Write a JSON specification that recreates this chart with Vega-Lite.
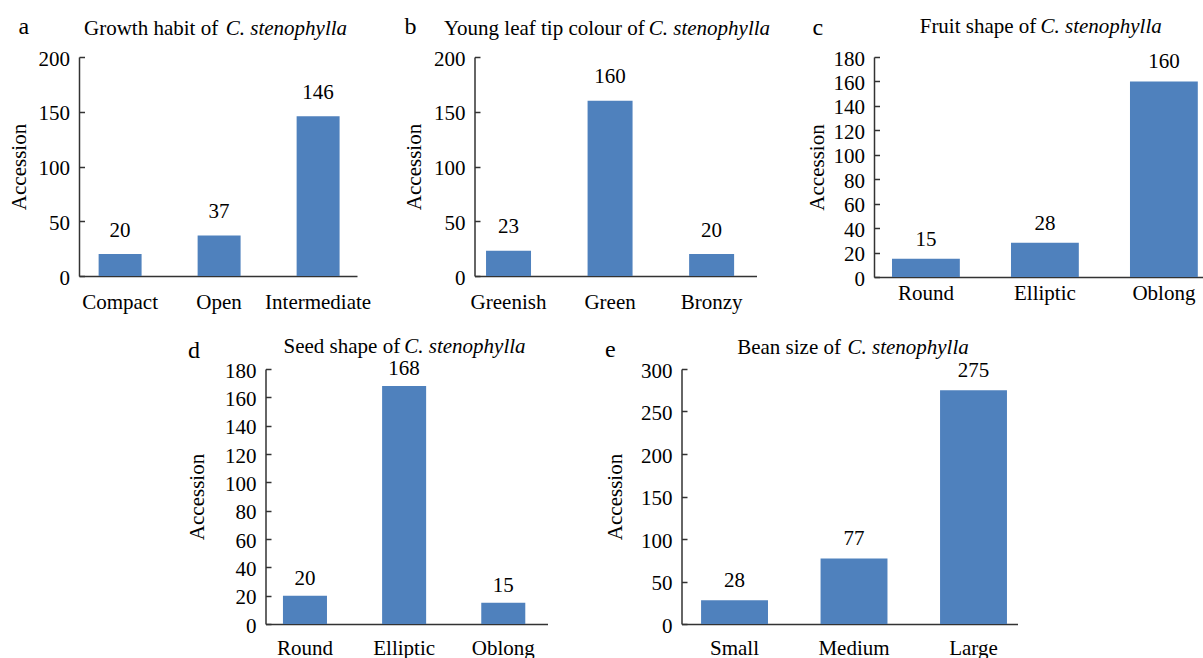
{
  "$schema": "https://vega.github.io/schema/vega-lite/v6.json",
  "padding": {"left": 8, "top": 14, "right": 0, "bottom": 0},
  "background": "white",
  "config": {
    "view": {"stroke": null},
    "font": "Liberation Serif",
    "axis": {"labelFont": "Liberation Serif", "labelFontSize": 21, "labelColor": "black", "titleFont": "Liberation Serif", "titleFontSize": 21, "titleFontWeight": "normal", "titleColor": "black", "domainColor": "#333", "domainWidth": 1.5, "tickColor": "#333", "tickWidth": 1.5, "grid": false},
    "axisX": {"labelFont": "Liberation Serif", "titleFont": "Liberation Serif", "labelAngle": 0, "ticks": false, "labelBaseline": "alphabetic", "titleAlign": "left", "titleBaseline": "alphabetic", "titleFontSize": 24, "titleAngle": 0},
    "axisY": {"labelFont": "Liberation Serif", "titleFont": "Liberation Serif", "tickSize": -5.5, "labelPadding": 15, "labelOffset": 2},
    "title": {"font": "Liberation Serif", "fontSize": 21, "fontWeight": "normal", "color": "black", "subtitleFont": "Liberation Serif", "subtitleFontSize": 21, "subtitleFontStyle": "italic", "subtitleColor": "black", "anchor": "start", "frame": "group", "subtitlePadding": -21},
    "text": {"font": "Liberation Serif", "fontSize": 21, "baseline": "alphabetic", "color": "black"},
    "bar": {"color": "#4F81BD"}
  },
  "vconcat": [
    {
      "hconcat": [
        {
          "width": 278, "height": 219,
          "data": {"values": [{"category": "Compact", "accession": 20}, {"category": "Open", "accession": 37}, {"category": "Intermediate", "accession": 146}]},
          "title": {"text": "Growth habit of", "subtitle": "\u200b\u00a0\u00a0\u00a0\u00a0\u00a0\u00a0\u00a0\u00a0\u00a0\u00a0\u00a0\u00a0\u00a0\u00a0\u00a0\u00a0\u00a0\u00a0\u00a0\u00a0\u00a0\u00a0\u00a0\u00a0\u00a0\u00a0\u00a0C. stenophylla", "dx": 5, "offset": -25.4},
          "encoding": {
            "x": {"field": "category", "type": "nominal", "sort": null, "scale": {"paddingInner": 0.566, "paddingOuter": 0.187, "align": 0.53}, "axis": {"title": "a", "titleX": -61, "titleY": -243, "labelPadding": 32}},
            "y": {"field": "accession", "type": "quantitative", "scale": {"domain": [0, 200], "nice": false}, "axis": {"title": "Accession", "values": [0, 50, 100, 150, 200], "titlePadding": 9}}
          },
          "layer": [
            {"mark": {"type": "bar"}},
            {"mark": {"type": "text", "dy": -17.5, "font": "Liberation Serif"}, "encoding": {"text": {"field": "accession"}}}
          ]
        },
        {
          "width": 282, "height": 219,
          "data": {"values": [{"category": "Greenish", "accession": 23}, {"category": "Green", "accession": 160}, {"category": "Bronzy", "accession": 20}]},
          "title": {"text": "Young leaf tip colour of", "subtitle": "\u200b\u00a0\u00a0\u00a0\u00a0\u00a0\u00a0\u00a0\u00a0\u00a0\u00a0\u00a0\u00a0\u00a0\u00a0\u00a0\u00a0\u00a0\u00a0\u00a0\u00a0\u00a0\u00a0\u00a0\u00a0\u00a0\u00a0\u00a0\u00a0\u00a0\u00a0\u00a0\u00a0\u00a0\u00a0\u00a0\u00a0\u00a0\u00a0\u00a0C. stenophylla", "dx": -30.5, "offset": -25.4},
          "encoding": {
            "x": {"field": "category", "type": "nominal", "sort": null, "scale": {"paddingInner": 0.557, "paddingOuter": 0.167, "align": 0.34}, "axis": {"title": "b", "titleX": -70.5, "titleY": -243, "labelPadding": 32}},
            "y": {"field": "accession", "type": "quantitative", "scale": {"domain": [0, 200], "nice": false}, "axis": {"title": "Accession", "values": [0, 50, 100, 150, 200], "titlePadding": 9}}
          },
          "layer": [
            {"mark": {"type": "bar"}},
            {"mark": {"type": "text", "dy": -17.5, "font": "Liberation Serif"}, "encoding": {"text": {"field": "accession"}}}
          ]
        },
        {
          "width": 330, "height": 220,
          "data": {"values": [{"category": "Round", "accession": 15}, {"category": "Elliptic", "accession": 28}, {"category": "Oblong", "accession": 160}]},
          "title": {"text": "Fruit shape of", "subtitle": "\u200b\u00a0\u00a0\u00a0\u00a0\u00a0\u00a0\u00a0\u00a0\u00a0\u00a0\u00a0\u00a0\u00a0\u00a0\u00a0\u00a0\u00a0\u00a0\u00a0\u00a0\u00a0\u00a0\u00a0C. stenophylla", "dx": 45.7, "offset": -22},
          "encoding": {
            "x": {"field": "category", "type": "nominal", "sort": null, "scale": {"paddingInner": 0.43, "paddingOuter": 0.1017, "align": 0.744}, "axis": {"title": "c", "titleX": -62, "titleY": -242.7, "labelPadding": 22}},
            "y": {"field": "accession", "type": "quantitative", "scale": {"domain": [0, 180], "nice": false}, "axis": {"title": "Accession", "values": [0, 20, 40, 60, 80, 100, 120, 140, 160, 180], "titlePadding": 6}}
          },
          "layer": [
            {"mark": {"type": "bar"}},
            {"mark": {"type": "text", "dy": -13, "font": "Liberation Serif"}, "encoding": {"text": {"field": "accession"}}}
          ]
        }
      ],
      "spacing": 117.5,
      "bounds": "flush"
    },
    {
      "hconcat": [
        {
          "width": 282, "height": 255,
          "data": {"values": [{"category": "Round", "accession": 20}, {"category": "Elliptic", "accession": 168}, {"category": "Oblong", "accession": 15}]},
          "title": {"text": "Seed shape of", "subtitle": "\u200b\u00a0\u00a0\u00a0\u00a0\u00a0\u00a0\u00a0\u00a0\u00a0\u00a0\u00a0\u00a0\u00a0\u00a0\u00a0\u00a0\u00a0\u00a0\u00a0\u00a0\u00a0\u00a0\u00a0C. stenophylla", "dx": 18, "offset": -19.1},
          "encoding": {
            "x": {"field": "category", "type": "nominal", "sort": null, "scale": {"paddingInner": 0.556, "paddingOuter": 0.2, "align": 0.44}, "axis": {"title": "d", "titleX": -78, "titleY": -266.7, "labelPadding": 30}},
            "y": {"field": "accession", "type": "quantitative", "scale": {"domain": [0, 180], "nice": false}, "axis": {"title": "Accession", "values": [0, 20, 40, 60, 80, 100, 120, 140, 160, 180], "titlePadding": 17}}
          },
          "layer": [
            {"mark": {"type": "bar"}},
            {"mark": {"type": "text", "dy": -11, "font": "Liberation Serif"}, "encoding": {"text": {"field": "accession"}}}
          ]
        },
        {
          "width": 336, "height": 255,
          "data": {"values": [{"category": "Small", "accession": 28}, {"category": "Medium", "accession": 77}, {"category": "Large", "accession": 275}]},
          "title": {"text": "Bean size of", "subtitle": "\u200b\u00a0\u00a0\u00a0\u00a0\u00a0\u00a0\u00a0\u00a0\u00a0\u00a0\u00a0\u00a0\u00a0\u00a0\u00a0\u00a0\u00a0\u00a0\u00a0\u00a0\u00a0C. stenophylla", "dx": 55.7, "offset": -21.4},
          "encoding": {
            "x": {"field": "category", "type": "nominal", "sort": null, "scale": {"paddingInner": 0.44, "paddingOuter": 0.126, "align": 0.65}, "axis": {"title": "e", "titleX": -77, "titleY": -268, "labelPadding": 30.6}},
            "y": {"field": "accession", "type": "quantitative", "scale": {"domain": [0, 300], "nice": false}, "axis": {"title": "Accession", "values": [0, 50, 100, 150, 200, 250, 300], "titlePadding": 15}}
          },
          "layer": [
            {"mark": {"type": "bar"}},
            {"mark": {"type": "text", "dy": -13.5, "font": "Liberation Serif"}, "encoding": {"text": {"field": "accession"}}}
          ]
        }
      ],
      "spacing": 134,
      "bounds": "flush"
    }
  ],
  "spacing": 24,
  "center": true
}
